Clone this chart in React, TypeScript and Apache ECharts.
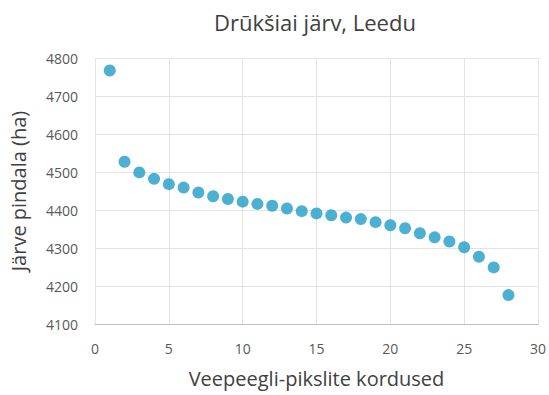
import React, { useEffect, useRef } from "react";
import * as echarts from "echarts";

const repetitions = [1, 2, 3, 4, 5, 6, 7, 8, 9, 10, 11, 12, 13, 14, 15, 16, 17, 18, 19, 20, 21, 22, 23, 24, 25, 26, 27, 28];
const areaHa = [4767, 4527, 4499, 4482, 4468, 4459, 4446, 4436, 4429, 4422, 4416, 4411, 4404, 4397, 4391, 4386, 4380, 4376, 4368, 4360, 4352, 4339, 4328, 4317, 4302, 4277, 4249, 4176];

const title = "Drūkšiai järv, Leedu";
const xName = "Veepeegli-pikslite kordused";
const yName = "Järve pindala (ha)";

const FONT = "'Open Sans', 'Noto Sans', sans-serif";

export default function App() {
  const ref = useRef<HTMLDivElement>(null);
  useEffect(() => {
    if (!ref.current) return;
    const chart = echarts.init(ref.current, undefined, { renderer: "svg" });
    chart.setOption({
      animation: false,
      backgroundColor: "#ffffff",
      title: {
        text: title,
        left: 310,
        top: 6,
        textAlign: "center",
        textStyle: { fontFamily: FONT, fontSize: 22, fontWeight: "normal", color: "#404040" },
      },
      grid: { left: 93, right: 10, top: 58, bottom: 71 },
      xAxis: {
        type: "value",
        min: 0,
        max: 30,
        interval: 5,
        name: xName,
        nameLocation: "middle",
        nameGap: 44,
        nameTextStyle: { fontFamily: FONT, fontSize: 20, color: "#404040" },
        axisLine: { show: true, lineStyle: { color: "#bfbfbf" } },
        axisTick: { show: false },
        axisLabel: { fontFamily: FONT, fontSize: 14, color: "#595959", margin: 17 },
        splitLine: { show: true, lineStyle: { color: "#e3e3e3" } },
      },
      yAxis: {
        type: "value",
        min: 4100,
        max: 4800,
        interval: 100,
        name: yName,
        nameLocation: "middle",
        nameGap: 67,
        nameTextStyle: { fontFamily: FONT, fontSize: 20, color: "#404040" },
        axisLine: { show: false },
        axisTick: { show: false },
        axisLabel: { fontFamily: FONT, fontSize: 14, color: "#595959", margin: 17, formatter: (v: number) => String(v) },
        splitLine: { show: true, lineStyle: { color: "#e3e3e3" } },
      },
      series: [
        {
          type: "scatter",
          data: repetitions.map((x, i) => [x, areaHa[i]]),
          symbol: "circle",
          symbolSize: 12,
          itemStyle: { color: "#1f9cc8" },
        },
      ],
    });
    return () => chart.dispose();
  }, []);
  return <div ref={ref} style={{ width: 549, height: 395, position: "absolute", left: 0, top: 0 }} />;
}
